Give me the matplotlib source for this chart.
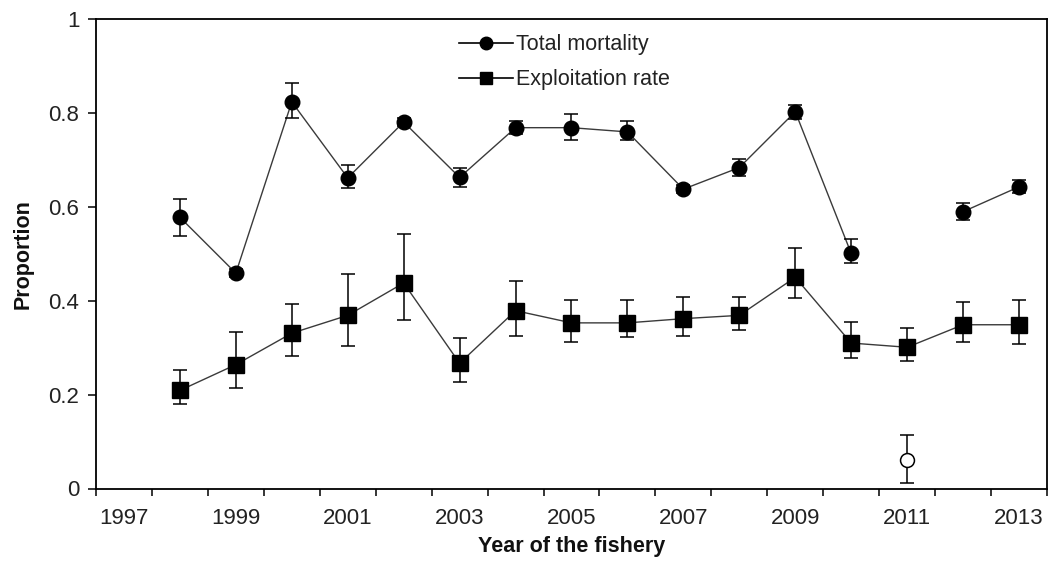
import numpy as np
import matplotlib
matplotlib.use("Agg")
import matplotlib.pyplot as plt
from matplotlib.ticker import FixedLocator

plt.rcParams['font.family'] = ['Liberation Sans', 'DejaVu Sans']

years = [1998, 1999, 2000, 2001, 2002, 2003, 2004, 2005, 2006, 2007, 2008, 2009, 2010, 2011, 2012, 2013]

total = [0.578, 0.459, 0.824, 0.662, 0.781, 0.663, 0.769, 0.769, 0.760, 0.638, 0.684, 0.803, 0.501, np.nan, 0.590, 0.643]
total_lo = [0.538, 0.451, 0.789, 0.640, 0.773, 0.643, 0.755, 0.743, 0.743, 0.630, 0.667, 0.787, 0.480, np.nan, 0.572, 0.629]
total_hi = [0.618, 0.467, 0.864, 0.689, 0.789, 0.684, 0.783, 0.798, 0.784, 0.646, 0.702, 0.818, 0.532, np.nan, 0.609, 0.657]

expl = [0.209, 0.264, 0.331, 0.369, 0.438, 0.267, 0.379, 0.353, 0.353, 0.362, 0.369, 0.450, 0.310, 0.301, 0.349, 0.349]
expl_lo = [0.181, 0.214, 0.283, 0.304, 0.360, 0.228, 0.326, 0.312, 0.322, 0.326, 0.338, 0.406, 0.279, 0.271, 0.312, 0.309]
expl_hi = [0.252, 0.333, 0.393, 0.457, 0.542, 0.321, 0.443, 0.402, 0.402, 0.409, 0.409, 0.512, 0.354, 0.342, 0.397, 0.401]

open_year = [2011]
open_val = [0.060]
open_lo = [0.012]
open_hi = [0.113]

x_labels = ['1997', '1999', '2001', '2003', '2005', '2007', '2009', '2011', '2013']
y_labels = ['0', '0.2', '0.4', '0.6', '0.8', '1']

fig = plt.figure(figsize=(10.48, 5.65), dpi=100)
ax = fig.add_axes([96/1048, 1 - 488.5/565, (1047 - 96)/1048, (488.5 - 19.3)/565])

yrs = np.array(years, dtype=float)
t = np.array(total); tl = np.array(total_lo); th = np.array(total_hi)
e = np.array(expl); el = np.array(expl_lo); eh = np.array(expl_hi)

line_col = '#3a3a3a'
ms = 11
capsize = 4.9
elw = 1.1

# lines
ax.plot(yrs, t, color=line_col, lw=1.0, zorder=2)
ax.plot(yrs, e, color=line_col, lw=1.0, zorder=2)

# error bars
m = ~np.isnan(t)
ax.errorbar(yrs[m], t[m], yerr=[t[m] - tl[m], th[m] - t[m]], fmt='none', ecolor='black',
            elinewidth=elw, capsize=capsize, capthick=elw, zorder=3)
ax.errorbar(yrs, e, yerr=[e - el, eh - e], fmt='none', ecolor='black',
            elinewidth=elw, capsize=capsize, capthick=elw, zorder=3)
ov = np.array(open_val)
ax.errorbar(open_year, ov, yerr=[ov - np.array(open_lo), np.array(open_hi) - ov], fmt='none',
            ecolor='black', elinewidth=elw, capsize=capsize, capthick=elw, zorder=3)

# markers
ax.plot(yrs[m], t[m], linestyle='none', marker='o', ms=10.5, color='black', zorder=4)
ax.plot(yrs, e, linestyle='none', marker='s', ms=ms, color='black', zorder=4)
ax.plot(open_year, ov, linestyle='none', marker='o', ms=10, mfc='white', mec='black', mew=1.1, zorder=5)

# legend proxies
h1, = ax.plot([], [], color='black', lw=1.2, marker='o', ms=9)
h2, = ax.plot([], [], color='black', lw=1.2, marker='s', ms=9)
leg = ax.legend([h1, h2], ['Total mortality', 'Exploitation rate'], loc='upper left',
                bbox_to_anchor=(0.382, 0.968), frameon=False, fontsize=15.5,
                handlelength=2.5, handletextpad=0.15, labelspacing=0.65,
                borderpad=0, borderaxespad=0)
for txt in leg.get_texts():
    txt.set_color('#222222')

ax.set_xlim(1996.5, 2013.5)
ax.set_ylim(0, 1)

ax.xaxis.set_major_locator(FixedLocator(np.arange(1997, 2014, 2)))
ax.set_xticklabels(x_labels)
ax.xaxis.set_minor_locator(FixedLocator(np.arange(1996.5, 2014, 1.0)))
ax.tick_params(axis='x', which='major', length=0, pad=14, labelsize=16, labelcolor='#222222')
ax.tick_params(axis='x', which='minor', length=5, width=1.1, direction='out')

ax.set_yticks(np.arange(0, 1.01, 0.2))
ax.set_yticklabels(y_labels)
ax.tick_params(axis='y', which='major', length=6, width=1.1, direction='out', pad=6,
               labelsize=16, labelcolor='#222222')

for s in ax.spines.values():
    s.set_linewidth(1.3)
    s.set_color('black')

ax.set_xlabel('Year of the fishery', fontsize=15.5, fontweight='bold', labelpad=5, color='#111111')
ax.set_ylabel('Proportion', fontsize=15.5, fontweight='bold', labelpad=11, color='#111111')

fig.savefig('out.png', dpi=100)
